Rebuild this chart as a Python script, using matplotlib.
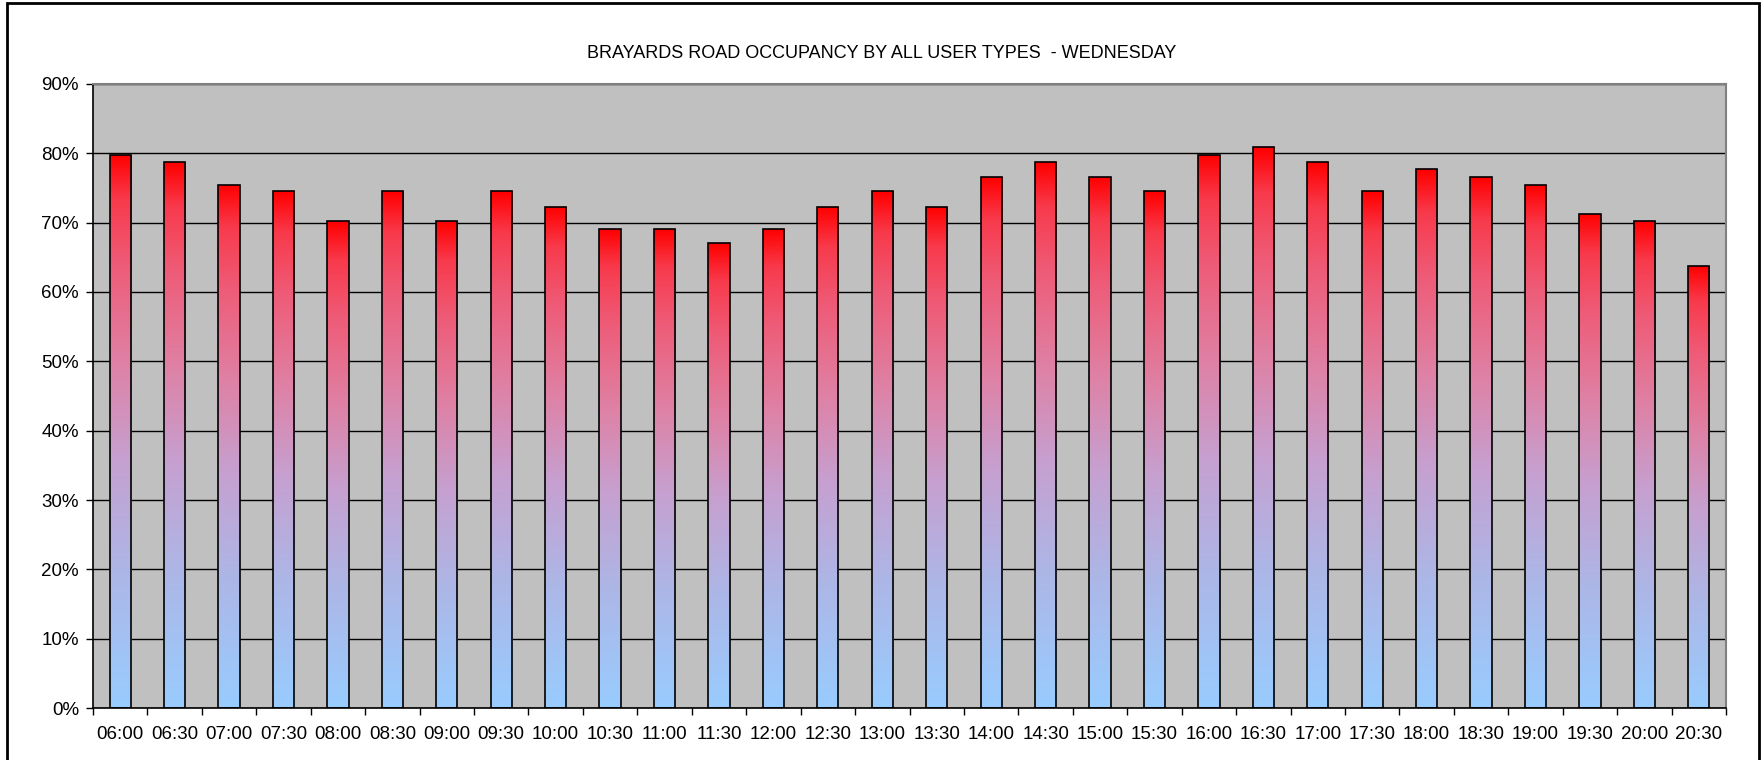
import numpy as np
import matplotlib.pyplot as plt
from matplotlib.colors import LinearSegmentedColormap
from matplotlib.patches import Rectangle
from matplotlib.ticker import FuncFormatter, MultipleLocator

plt.rcParams['font.family'] = ['Liberation Sans', 'DejaVu Sans']

# donnees
times = ['06:00', '06:30', '07:00', '07:30', '08:00', '08:30', '09:00', '09:30',
         '10:00', '10:30', '11:00', '11:30', '12:00', '12:30', '13:00', '13:30',
         '14:00', '14:30', '15:00', '15:30', '16:00', '16:30', '17:00', '17:30',
         '18:00', '18:30', '19:00', '19:30', '20:00', '20:30']
occupancy = [79.8, 78.7, 75.5, 74.5, 70.2, 74.5, 70.2, 74.5,
             72.3, 69.1, 69.1, 67.0, 69.1, 72.3, 74.5, 72.3,
             76.6, 78.7, 76.6, 74.5, 79.8, 80.9, 78.7, 74.5,
             77.7, 76.6, 75.5, 71.3, 70.2, 63.8]
title = 'BRAYARDS ROAD OCCUPANCY BY ALL USER TYPES  - WEDNESDAY'

# degrade bleu -> rouge
cmap = LinearSegmentedColormap.from_list('grad', [
    (0.0, '#99CCFF'), (0.25, '#ADB6E6'), (0.45, '#C6A0D0'),
    (0.62, '#DE82A6'), (0.80, '#EE5C78'), (0.92, '#F83A4C'), (1.0, '#FF0000')])

fig = plt.figure(figsize=(17.64, 7.6), dpi=100)
ax = fig.add_axes([0.0527, 0.0684, 0.9258, 0.8211])
ax.set_facecolor('#C0C0C0')

x = np.arange(len(times))
bars = ax.bar(x, occupancy, width=0.39, facecolor='none', edgecolor='black',
              linewidth=1.2, zorder=3)
grad = np.linspace(0, 1, 256).reshape(-1, 1)
for b in bars:
    x0, w, h = b.get_x(), b.get_width(), b.get_height()
    im = ax.imshow(grad, cmap=cmap, origin='lower', aspect='auto',
                   extent=[x0, x0 + w, 0, h], zorder=2, interpolation='bilinear')
    im.set_clip_path(b)

ax.set_xlim(-0.5, len(times) - 0.5)
ax.set_ylim(0, 90)
ax.yaxis.set_major_locator(MultipleLocator(10))
ax.yaxis.set_major_formatter(FuncFormatter(lambda v, p: '%d%%' % v))
ax.grid(axis='y', color='black', linewidth=1, zorder=1)
ax.set_axisbelow(True)

ax.set_xticks(x)
ax.set_xticklabels(times)
ax.set_xticks(np.arange(-0.5, len(times)), minor=True)
ax.tick_params(axis='x', which='major', length=0, pad=13, labelsize=13.5)
ax.tick_params(axis='x', which='minor', length=5, width=1, color='black')
ax.tick_params(axis='y', length=5, width=1, pad=5, labelsize=13.5)

for s in ['left', 'bottom']:
    ax.spines[s].set_color('black')
    ax.spines[s].set_linewidth(1.2)
for s in ['top', 'right']:
    ax.spines[s].set_color('#808080')
    ax.spines[s].set_linewidth(1.5)

fig.text(0.5, 1 - 53 / 760, title, ha='center', va='center', fontsize=13)

# cadre
fig.patches.append(Rectangle((7 / 1764, -0.05), (1759 - 7) / 1764, 1.05 - 3 / 760,
                             transform=fig.transFigure, fill=False,
                             edgecolor='black', linewidth=2))

plt.savefig('out.png', dpi=100)
